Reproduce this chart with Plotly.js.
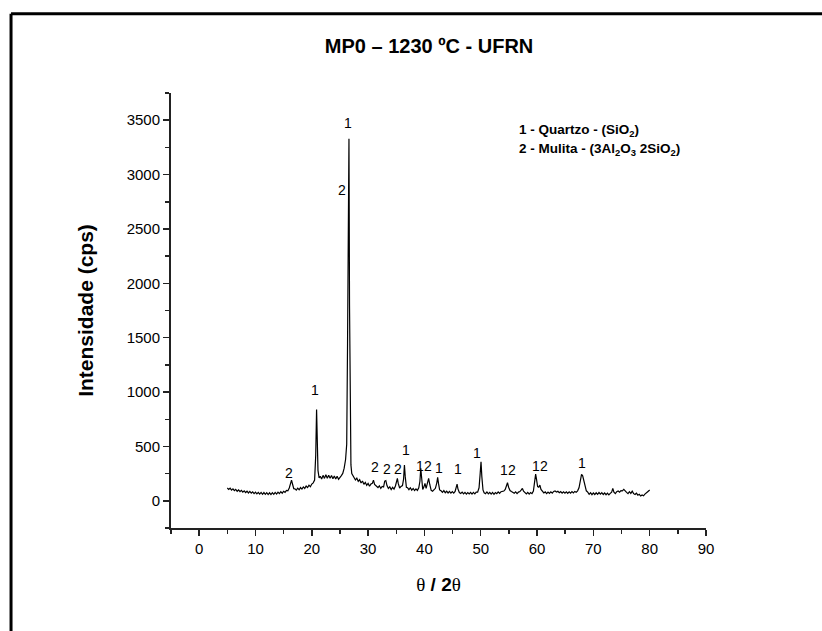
<!DOCTYPE html>
<html>
<head>
<meta charset="utf-8">
<script src="https://cdn.plot.ly/plotly-3.0.1.min.js"></script>
<style>html,body{margin:0;padding:0;background:#fff;}#plot{width:822px;height:631px;}</style>
</head>
<body>
<div id="plot"></div>
<script>
// 2θ positions (degrees)
const twoTheta = [
5.0,5.25,5.5,5.75,6.0,6.25,6.5,6.75,7.0,7.25,7.5,7.75,8.0,8.25,8.5,8.75,9.0,9.25,9.5,9.75,
10.0,10.25,10.5,10.75,11.0,11.25,11.5,11.75,12.0,12.25,12.5,12.75,13.0,13.25,13.5,13.75,14.0,14.25,14.5,14.75,
15.0,15.25,15.5,15.75,16.0,16.2,16.4,16.6,16.8,17.0,17.25,17.5,17.75,18.0,18.25,18.5,18.75,19.0,19.25,19.5,19.75,
20.0,20.25,20.5,20.7,20.85,20.95,21.1,21.3,21.5,21.75,22.0,22.25,22.5,22.75,23.0,23.25,23.5,23.75,24.0,24.25,24.5,24.75,
25.0,25.25,25.5,25.75,26.0,26.2,26.35,26.5,26.6,26.7,26.8,26.95,27.1,27.3,27.5,27.75,28.0,28.25,28.5,28.75,29.0,29.25,29.5,29.75,
30.0,30.25,30.5,30.75,30.95,31.15,31.4,31.75,32.0,32.25,32.5,32.75,32.95,33.15,33.35,33.6,33.85,34.1,34.35,34.6,34.85,
35.05,35.2,35.35,35.6,35.85,36.1,36.3,36.45,36.6,36.8,37.0,37.25,37.5,37.75,38.0,38.25,38.5,38.75,39.0,39.2,39.35,39.5,39.7,39.9,
40.1,40.3,40.5,40.75,40.95,41.2,41.45,41.7,41.95,42.2,42.35,42.5,42.7,42.95,43.2,43.45,43.7,43.95,44.2,44.45,44.7,44.95,
45.2,45.45,45.65,45.8,45.95,46.2,46.45,46.7,46.95,47.2,47.45,47.7,47.95,48.2,48.45,48.7,48.95,49.2,49.45,49.7,49.9,
50.05,50.2,50.4,50.6,50.85,51.1,51.35,51.6,51.85,52.1,52.35,52.6,52.85,53.1,53.35,53.6,53.85,54.1,54.35,54.55,54.75,54.95,
55.2,55.45,55.7,55.95,56.2,56.45,56.7,56.95,57.2,57.4,57.6,57.85,58.1,58.35,58.6,58.85,59.1,59.35,59.55,59.75,59.9,
60.1,60.3,60.5,60.7,60.95,61.2,61.45,61.7,61.95,62.2,62.45,62.7,62.95,63.2,63.45,63.7,63.95,64.2,64.45,64.7,64.95,
65.2,65.45,65.7,65.95,66.2,66.45,66.7,66.95,67.2,67.45,67.7,67.9,68.1,68.3,68.5,68.75,69.0,69.25,69.5,69.75,
70.0,70.25,70.5,70.75,71.0,71.25,71.5,71.75,72.0,72.25,72.5,72.75,73.0,73.25,73.45,73.65,73.9,74.15,74.4,74.65,74.9,
75.15,75.4,75.65,75.9,76.15,76.4,76.65,76.9,77.15,77.4,77.65,77.9,78.15,78.4,78.65,78.9,79.15,79.4,79.65,80.0
];
// Intensity (cps)
const intensity = [
118,104,117,98,110,94,106,88,100,84,96,80,92,76,88,72,86,70,83,66,
80,64,78,62,77,60,76,60,75,58,74,57,75,60,77,62,80,66,84,70,
88,78,96,92,118,160,190,150,112,110,98,116,102,122,108,128,114,136,122,144,130,
154,165,190,420,840,600,280,210,226,200,234,206,240,208,236,207,232,203,229,200,226,198,
222,232,252,300,380,520,1450,2400,3330,1800,700,330,250,226,214,192,208,178,194,164,182,152,170,142,
160,134,154,160,190,150,140,122,138,114,132,128,180,186,140,114,128,104,124,108,136,
180,206,160,118,132,140,200,330,220,124,120,102,120,98,114,94,110,96,120,180,300,190,104,126,
160,114,150,206,150,96,88,102,115,165,215,160,100,92,78,94,74,88,72,86,70,84,
70,86,120,154,110,76,68,80,64,78,62,76,64,78,62,77,64,80,80,120,250,
359,220,100,74,66,82,64,78,62,77,60,76,66,82,68,84,88,90,105,140,166,125,
95,86,76,70,82,66,80,85,100,114,88,72,64,78,62,76,66,90,150,246,200,
130,125,145,105,85,72,82,66,80,68,82,70,86,90,80,88,74,84,70,82,70,
83,68,82,70,84,72,86,78,92,120,180,243,230,190,130,92,80,60,74,56,
72,58,74,60,76,61,75,58,72,56,70,54,68,80,114,80,66,84,90,80,94,
92,105,86,78,66,84,68,88,66,58,70,52,60,44,54,46,62,70,84,99
];
// Peak phase labels
const labelText = ["1","2","1","2","2","2","2","1","1","2","1","1","1","1","2","1","2","1"];
const labelX = [26.5,25.4,20.56,15.94,31.2,33.4,35.3,36.7,39.3,40.7,42.5,45.9,49.4,54.15,55.5,59.8,61.3,67.96];
const labelY = [3475,2861,1019,252,313,292,292,467,322,322,298,289,436,283,283,323,323,344];
// Phase key
const keyLines = ["1 - Quartzo - (SiO<sub>2</sub>)","2 - Mulita - (3Al<sub>2</sub>O<sub>3</sub> 2SiO<sub>2</sub>)"];
const keyY = [3405,3228];

const annotations = labelText.map((t,i)=>({
  text:t, x:labelX[i], y:labelY[i], xref:'x', yref:'y', showarrow:false,
  xanchor:'center', yanchor:'middle', font:{family:'Liberation Sans, Arial, sans-serif', size:14, color:'#000000'}
}));
keyLines.forEach((t,i)=>annotations.push({
  text:'<b>'+t+'</b>', x:56.4, y:keyY[i], xref:'x', yref:'y', showarrow:false,
  xanchor:'left', yanchor:'middle', align:'left',
  font:{family:'Liberation Sans, Arial, sans-serif', size:13.5, color:'#000000'}
}));

const trace = {
  x: twoTheta, y: intensity, type:'scatter', mode:'lines',
  line:{color:'#000', width:1.2}, hoverinfo:'skip', showlegend:false
};

const font = {family:'Liberation Sans, Arial, sans-serif', color:'#000'};
const layout = {
  width:822, height:631,
  margin:{l:171, r:116, t:93, b:103},
  paper_bgcolor:'#fff', plot_bgcolor:'#fff',
  showlegend:false,
  title:{text:'<b>MP0 – 1230 ºC - UFRN</b>', font:Object.assign({size:20}, font),
    xref:'container', yref:'container', x:0.522, y:0.927, xanchor:'center', yanchor:'middle'},
  xaxis:{
    range:[-5,90], tick0:0, dtick:10, showgrid:false, zeroline:false,
    showline:true, linecolor:'#222', linewidth:2, ticks:'outside', ticklen:6, tickwidth:1.5, tickcolor:'#222',
    minor:{dtick:5, tick0:0, ticks:'outside', ticklen:4, tickwidth:1.5, tickcolor:'#222', showgrid:false},
    tickfont:Object.assign({size:15}, font),
    title:{text:'<span style="font-family:Liberation Serif, Times New Roman, serif">θ</span><b> / 2</b><span style="font-family:Liberation Serif, Times New Roman, serif">θ</span>',
      font:Object.assign({size:19}, font), standoff:22}
  },
  yaxis:{
    range:[-250,3750], tick0:0, dtick:500, showgrid:false, zeroline:false,
    showline:true, linecolor:'#222', linewidth:2, ticks:'outside', ticklen:6, tickwidth:1.5, tickcolor:'#222',
    minor:{dtick:250, tick0:0, ticks:'outside', ticklen:4, tickwidth:1.5, tickcolor:'#222', showgrid:false},
    tickfont:Object.assign({size:15}, font),
    title:{text:'<b>Intensidade (cps)</b>', font:Object.assign({size:21}, font), standoff:27}
  },
  annotations: annotations,
  shapes:[
    {type:'line', xref:'paper', yref:'paper', x0:-0.299, x1:1.5, y0:1.182, y1:1.182, line:{color:'#000', width:3}},
    {type:'line', xref:'paper', yref:'paper', x0:-0.299, x1:-0.299, y0:1.182, y1:-0.5, line:{color:'#000', width:3}}
  ]
};
Plotly.newPlot('plot',[trace],layout,{displayModeBar:false, staticPlot:true});
</script>
</body>
</html>
